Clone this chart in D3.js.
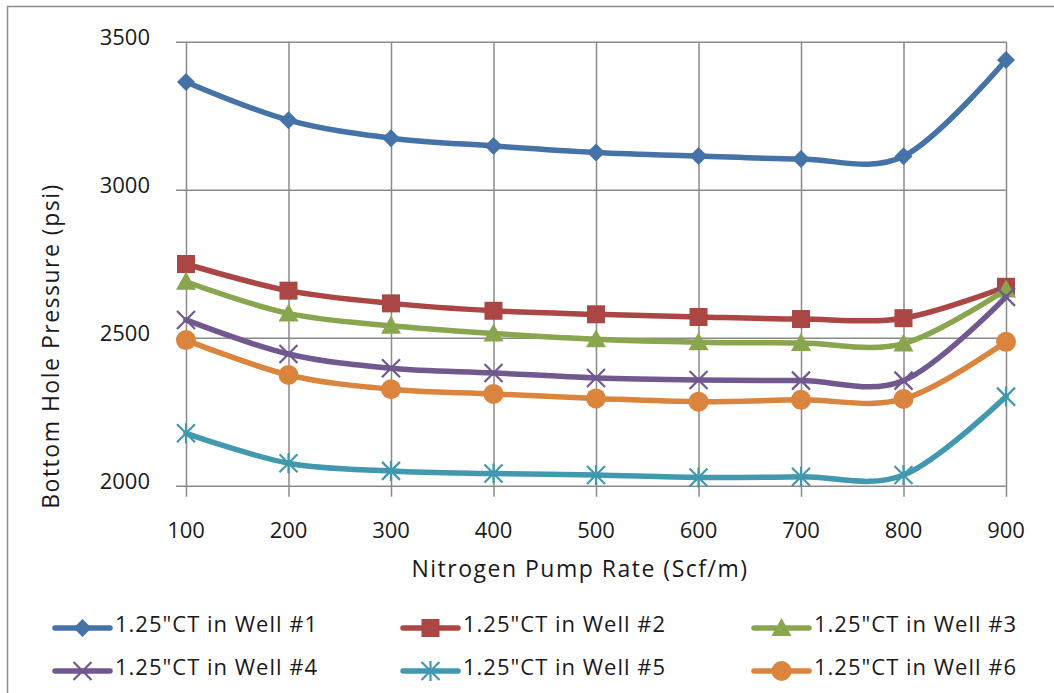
<!DOCTYPE html>
<html>
<head>
<meta charset="utf-8">
<script src="https://cdn.jsdelivr.net/npm/d3@7"></script>
<style>
  html, body { margin: 0; padding: 0; background: #fff; }
  svg { display: block; }
  text { font-family: "Open Sans", "Noto Sans", sans-serif; fill: #1a1a1a; }
</style>
</head>
<body>
<svg id="chart" width="1054" height="693"></svg>
<script>
// ---- data ----
const categories = [100, 200, 300, 400, 500, 600, 700, 800, 900];
const seriesNames = [
  '1.25"CT in Well #1', '1.25"CT in Well #2', '1.25"CT in Well #3',
  '1.25"CT in Well #4', '1.25"CT in Well #5', '1.25"CT in Well #6'
];
const well1 = [3364, 3235, 3174, 3148, 3126, 3114, 3104, 3113, 3438];
const well2 = [2749, 2659, 2616, 2591, 2579, 2570, 2563, 2566, 2672];
const well3 = [2689, 2582, 2540, 2514, 2495, 2485, 2482, 2480, 2663];
const well4 = [2560, 2445, 2397, 2381, 2364, 2357, 2355, 2355, 2638];
const well5 = [2177, 2076, 2050, 2041, 2036, 2028, 2030, 2036, 2301];
const well6 = [2492, 2374, 2326, 2310, 2295, 2284, 2290, 2293, 2486];
const yTicks = [2000, 2500, 3000, 3500];
const xTitle = "Nitrogen Pump Rate (Scf/m)";
const yTitle = "Bottom Hole Pressure (psi)";

const seriesValues = [well1, well2, well3, well4, well5, well6];
const colors = ["#4572A7", "#AA4643", "#89A54E", "#71588F", "#4198AF", "#DB843D"];
const markers = ["diamond", "square", "triangle", "x", "star", "circle"];

// ---- layout ----
const svg = d3.select("#chart");
const plotLeft = 186, plotRight = 1006, plotTop = 41.7, plotBottom = 485.7;

const x = d3.scalePoint().domain(categories).range([plotLeft, plotRight]).padding(0);
const y = d3.scaleLinear().domain([2000, 3500]).range([plotBottom, plotTop]);

// outer border
svg.append("rect")
  .attr("x", 7.5).attr("y", 6.5).attr("width", 1100).attr("height", 720)
  .attr("fill", "none").attr("stroke", "#8c8c8c").attr("stroke-width", 1.5);

const gridColor = "#8a8a8a";
// horizontal gridlines
const gy = svg.append("g").attr("transform", `translate(${plotRight},0)`)
  .call(d3.axisLeft(y).tickValues(yTicks).tickSize(plotRight - plotLeft + 10).tickFormat(""));
gy.select(".domain").remove();
gy.selectAll(".tick line").attr("stroke", gridColor).attr("stroke-width", 1.5);

// y labels
svg.append("g").selectAll("text").data(yTicks).join("text")
  .attr("x", 150).attr("y", d => y(d) - 3)
  .attr("text-anchor", "end").attr("dominant-baseline", "middle")
  .attr("font-size", 22).text(d => d);

// vertical gridlines
const gx = svg.append("g").attr("transform", `translate(0,${plotTop})`)
  .call(d3.axisBottom(x).tickSize(plotBottom - plotTop + 11).tickFormat(""));
gx.select(".domain").remove();
gx.selectAll(".tick line").attr("stroke", gridColor).attr("stroke-width", 1.5);

// x labels
svg.append("g").selectAll("text").data(categories).join("text")
  .attr("x", d => x(d)).attr("y", 532)
  .attr("text-anchor", "middle").attr("dominant-baseline", "middle")
  .attr("font-size", 22).text(d => d);

// titles
svg.append("text").attr("x", 580).attr("y", 571)
  .attr("text-anchor", "middle").attr("dominant-baseline", "middle")
  .attr("font-size", 23).attr("letter-spacing", 1.5).attr("font-weight", 500).text(xTitle);
svg.append("text").attr("transform", "translate(53,346) rotate(-90)")
  .attr("text-anchor", "middle").attr("dominant-baseline", "middle")
  .attr("font-size", 23).attr("letter-spacing", 1.5).attr("font-weight", 500).text(yTitle);

// marker drawing
function drawMarker(g, type, cx, cy, color) {
  const s = 9;
  if (type === "diamond") {
    g.append("path").attr("d", `M${cx},${cy - s}L${cx + s},${cy}L${cx},${cy + s}L${cx - s},${cy}Z`).attr("fill", color);
  } else if (type === "square") {
    g.append("rect").attr("x", cx - 9).attr("y", cy - 9).attr("width", 18).attr("height", 18).attr("fill", color);
  } else if (type === "triangle") {
    g.append("path").attr("d", `M${cx},${cy - 10}L${cx + 10},${cy + 8}L${cx - 10},${cy + 8}Z`).attr("fill", color);
  } else if (type === "circle") {
    g.append("circle").attr("cx", cx).attr("cy", cy).attr("r", 10).attr("fill", color);
  } else if (type === "x") {
    g.append("path").attr("d", `M${cx - 9},${cy - 9}L${cx + 9},${cy + 9}M${cx - 9},${cy + 9}L${cx + 9},${cy - 9}`)
      .attr("stroke", color).attr("stroke-width", 2.2).attr("fill", "none");
  } else if (type === "star") {
    g.append("path").attr("d", `M${cx - 9},${cy - 9}L${cx + 9},${cy + 9}M${cx - 9},${cy + 9}L${cx + 9},${cy - 9}M${cx},${cy - 10}L${cx},${cy + 10}`)
      .attr("stroke", color).attr("stroke-width", 2.2).attr("fill", "none");
  }
}

const line = d3.line().x(d => x(d.c)).y(d => y(d.v)).curve(d3.curveCardinal.tension(0));

seriesValues.forEach((vals, i) => {
  const data = categories.map((c, j) => ({ c, v: vals[j] }));
  const g = svg.append("g");
  g.append("path").datum(data).attr("d", line)
    .attr("fill", "none").attr("stroke", colors[i]).attr("stroke-width", 5.5)
    .attr("stroke-linejoin", "round").attr("stroke-linecap", "round");
  data.forEach(d => drawMarker(g, markers[i], x(d.c), y(d.v), colors[i]));
});

// legend
const legendCols = [55, 403, 754];
const legendRows = [628, 671];
seriesNames.forEach((name, i) => {
  const lx = legendCols[i % 3], ly = legendRows[Math.floor(i / 3)];
  const g = svg.append("g");
  g.append("line").attr("x1", lx).attr("x2", lx + 55).attr("y1", ly).attr("y2", ly)
    .attr("stroke", colors[i]).attr("stroke-width", 5.5).attr("stroke-linecap", "round");
  drawMarker(g, markers[i], lx + 27.5, ly, colors[i]);
  g.append("text").attr("x", lx + 60).attr("y", ly - 2)
    .attr("dominant-baseline", "middle").attr("font-size", 22).attr("letter-spacing", 1).text(name);
});
</script>
</body>
</html>
